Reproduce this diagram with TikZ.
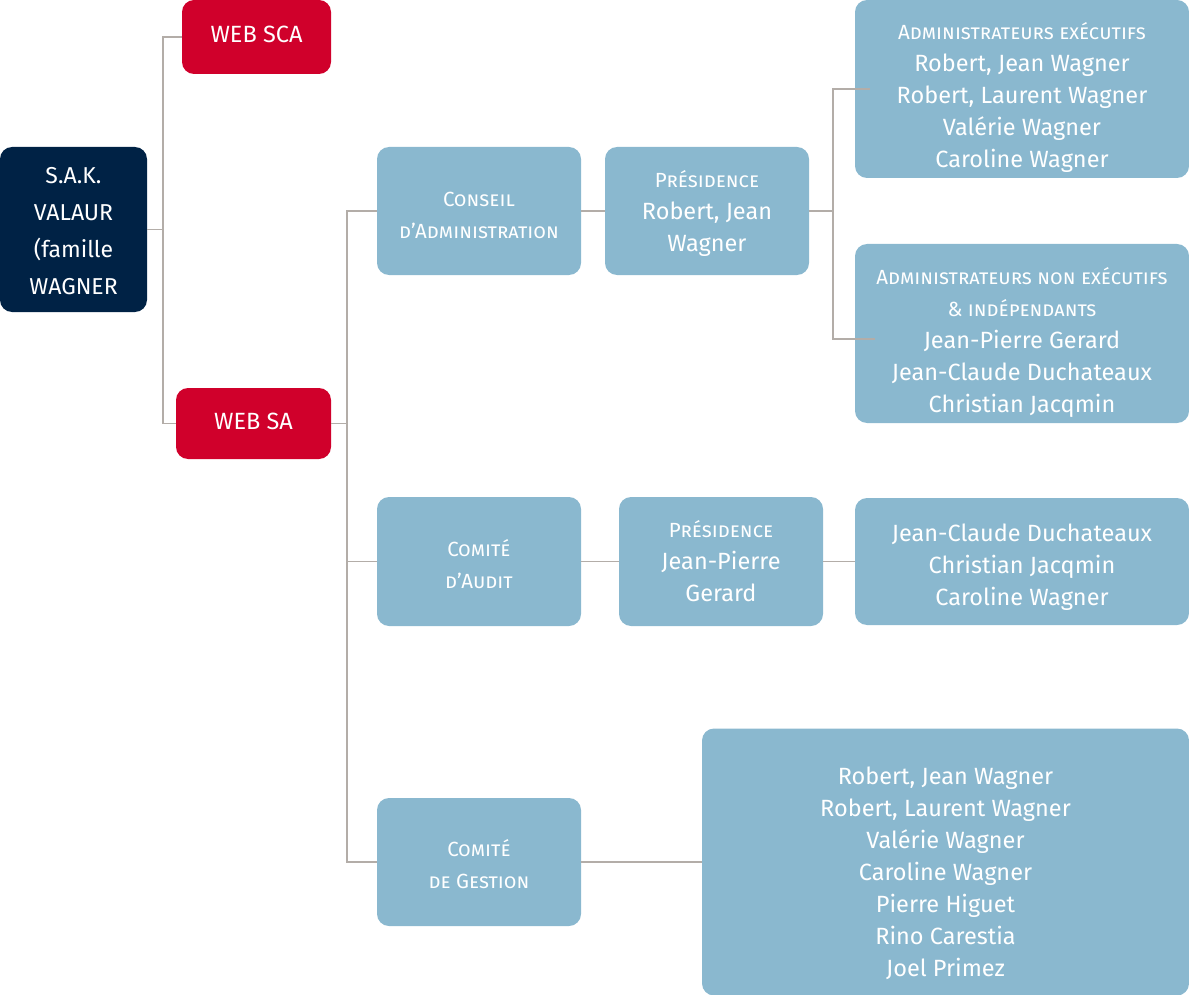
\documentclass[tikz,border=0pt]{standalone}
\usepackage{fontspec}
\setmainfont{Fira Sans}
\usetikzlibrary{positioning}

\definecolor{navy}{HTML}{002245}
\definecolor{webred}{HTML}{D0002B}
\definecolor{boxblue}{HTML}{8AB8CF}
\definecolor{wire}{HTML}{B3ADA8}

\tikzset{
  box/.style={fill=boxblue, rounded corners=12pt, text=white, align=center, inner sep=0pt,
    font=\fontsize{23.5}{32}\selectfont},
  redbox/.style={box, fill=webred},
  rootbox/.style={box, fill=navy, font=\fontsize{23}{37}\selectfont},
  link/.style={draw=wire, line width=1.3pt},
}
\newcommand{\hd}[1]{{\fontsize{20.5}{32}\selectfont\scshape #1}}
\newcommand{\lift}[1]{\rule{0pt}{#1}}
\newcommand{\lowstrut}[1]{\rule[-#1]{0pt}{#1}}

\begin{document}
\begin{tikzpicture}[x=1pt, y=-1pt]
    \useasboundingbox (0,0) rectangle (1189,995);

    % Holding
    \node[rootbox, minimum width=147pt, minimum height=165pt] (sak) at (73.5,229.5)
        {\lift{19pt}S.A.K.\\VALAUR\\(famille\\WAGNER};
    \node[redbox, minimum width=149pt, minimum height=74pt] (websca) at (256.5,37) {WEB SCA\lowstrut{6pt}};
    \node[redbox, minimum width=155pt, minimum height=71pt] (websa) at (253.5,423.5) {WEB SA\lowstrut{4pt}};

    % Conseil
    \node[box, minimum width=204pt, minimum height=128pt] (conseil) at (479,211)
        {\lift{24pt}\hd{Conseil}\\\hd{d'Administration}};
    \node[box, minimum width=204pt, minimum height=128pt] (pres1) at (707,211)
        {\lift{23pt}\hd{Présidence}\\Robert, Jean\\Wagner};
    \node[box, minimum width=334pt, minimum height=178pt] (adminexec) at (1022,89)
        {\lift{35pt}\hd{Administrateurs exécutifs}\\Robert, Jean Wagner\\Robert, Laurent Wagner\\Valérie Wagner\\Caroline Wagner};
    \node[box, minimum width=334pt, minimum height=179pt] (adminnon) at (1022,333.5)
        {\lift{36pt}\hd{Administrateurs non exécutifs}\\\hd{\& indépendants}\\Jean-Pierre Gerard\\Jean-Claude Duchateaux\\Christian Jacqmin};

    % Audit
    \node[box, minimum width=204pt, minimum height=129pt] (audit) at (479,561.5)
        {\lift{22pt}\hd{Comité}\\\hd{d'Audit}};
    \node[box, minimum width=204pt, minimum height=129pt] (pres2) at (721,561.5)
        {\hd{Présidence}\\Jean-Pierre\\Gerard};
    \node[box, minimum width=334pt, minimum height=127pt] (auditm) at (1022,561.5)
        {\lift{28pt}Jean-Claude Duchateaux\\Christian Jacqmin\\Caroline Wagner};

    % Gestion
    \node[box, minimum width=204pt, minimum height=128pt] (gestion) at (479,862)
        {\lift{22pt}\hd{Comité}\\\hd{de Gestion}};
    \node[box, minimum width=487pt, minimum height=267pt] (gestm) at (945.5,862)
        {\lift{41pt}Robert, Jean Wagner\\Robert, Laurent Wagner\\Valérie Wagner\\Caroline Wagner\\Pierre Higuet\\Rino Carestia\\Joel Primez};

    % Links
    \coordinate (j1) at (163,229.5);
    \coordinate (j2) at (347,423.5);
    \coordinate (j3) at (833,211);
    \coordinate (e1) at (870,89);
    \coordinate (e2) at (875,339);
    \draw[link] (sak.east) -- (j1) |- (websca.west);
    \draw[link] (j1) |- (websa.west);
    \draw[link] (websa.east) -- (j2);
    \draw[link] (j2) |- (conseil.west);
    \draw[link] (j2) |- (audit.west);
    \draw[link] (j2) |- (gestion.west);
    \draw[link] (conseil.east) -- (pres1.west);
    \draw[link] (pres1.east) -- (j3);
    \draw[link] (j3) |- (e1);
    \draw[link] (j3) |- (e2);
    \draw[link] (audit.east) -- (pres2.west);
    \draw[link] (pres2.east) -- (auditm.west);
    \draw[link] (gestion.east) -- (gestm.west);
\end{tikzpicture}
\end{document}
